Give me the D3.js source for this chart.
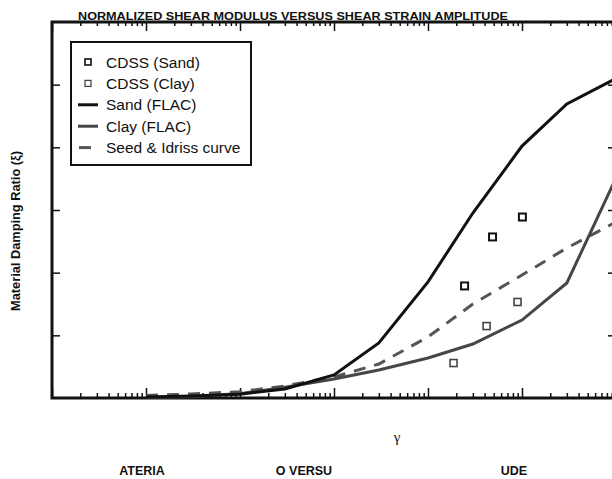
<html lang="en">
<head>
<meta charset="UTF-8">
<title>Material damping ratio versus shear strain</title>
<script src="https://d3js.org/d3.v7.min.js"></script>
<style>
  body { margin: 0; background: #fff; }
  svg { display: block; font-family: "Liberation Sans", Arial, sans-serif; }
  .legend text { font-size: 15.5px; fill: #111; }
</style>
</head>
<body>
<svg width="612" height="479"></svg>
<script>
// shear strain amplitude (%) at which the curves are given
const strain = [1e-4, 3e-4, 1e-3, 3e-3, 1e-2, 3e-2, 0.1, 0.3, 1, 3, 10];
// damping ratio (%)
const sandFlac   = [0.08, 0.15, 0.3, 0.72, 1.84, 4.39, 9.26, 14.76, 20.1, 23.46, 25.5];
const clayFlac   = [0.05, 0.1, 0.35, 0.85, 1.52, 2.23, 3.19, 4.31, 6.22, 9.18, 17.55];
const seedIdriss = [0.2, 0.32, 0.5, 0.96, 1.68, 2.71, 4.87, 7.5, 9.81, 11.97, 14.04];

// CDSS test points
const cdssSandStrain = [0.245, 0.486, 1.01];
const cdssSandDamp   = [8.94, 12.85, 14.44];
const cdssClayStrain = [0.187, 0.42, 0.896];
const cdssClayDamp   = [2.79, 5.74, 7.66];

const legendLabels = ["CDSS (Sand)", "CDSS (Clay)", "Sand (FLAC)", "Clay (FLAC)", "Seed & Idriss curve"];
const yTicks = [5, 10, 15, 20, 25];

const svg = d3.select("svg");

const pL = 52, pR = 616, pT = 22, pB = 398;

const x = d3.scaleLog().domain([1e-5, 10]).range([pL, pR]);
const y = d3.scaleLinear().domain([0, 30]).range([pB, pT]);

const allTicks = x.ticks();
const majors = allTicks.filter(v => Math.abs(Math.log10(v) - Math.round(Math.log10(v))) < 1e-9);
const minors = allTicks.filter(v => !majors.includes(v));

function tickGroup(axis, transform) {
    const g = svg.append("g").attr("transform", transform).call(axis);
    g.select(".domain").remove();
    g.selectAll("line").attr("stroke", "#111").attr("stroke-width", 1.5);
    g.selectAll("text").remove();
    return g;
}

// bottom axis, ticks pointing up
tickGroup(d3.axisTop(x).tickValues(majors).tickSize(10).tickFormat(""), `translate(0,${pB})`);
tickGroup(d3.axisTop(x).tickValues(minors).tickSize(5).tickFormat(""), `translate(0,${pB})`);
// top axis, ticks pointing down
tickGroup(d3.axisBottom(x).tickValues(majors).tickSize(9).tickFormat(""), `translate(0,${pT})`);
tickGroup(d3.axisBottom(x).tickValues(minors).tickSize(4).tickFormat(""), `translate(0,${pT})`);
// left and right axes
tickGroup(d3.axisRight(y).tickValues(yTicks).tickSize(8).tickFormat(""), `translate(${pL},0)`);
tickGroup(d3.axisLeft(y).tickValues(yTicks).tickSize(8).tickFormat(""), `translate(${pR},0)`);

// frame
svg.append("rect")
    .attr("x", pL).attr("y", pT)
    .attr("width", pR - pL).attr("height", pB - pT)
    .attr("fill", "none").attr("stroke", "#111").attr("stroke-width", 3);

const line = vals => d3.line()
    .x((d, i) => x(strain[i]))
    .y(d => y(d))(vals);

svg.append("path").attr("d", line(seedIdriss))
    .attr("fill", "none").attr("stroke", "#555").attr("stroke-width", 3)
    .attr("stroke-dasharray", "12,9");

svg.append("path").attr("d", line(clayFlac))
    .attr("fill", "none").attr("stroke", "#464646").attr("stroke-width", 3);

svg.append("path").attr("d", line(sandFlac))
    .attr("fill", "none").attr("stroke", "#111").attr("stroke-width", 3);

function squares(xs, ys, color, sw) {
    svg.append("g").selectAll("rect")
        .data(xs)
        .join("rect")
        .attr("x", (d, i) => x(d) - 3.5)
        .attr("y", (d, i) => y(ys[i]) - 3.5)
        .attr("width", 7).attr("height", 7)
        .attr("fill", "#fff").attr("stroke", color).attr("stroke-width", sw);
}
squares(cdssSandStrain, cdssSandDamp, "#111", 2);
squares(cdssClayStrain, cdssClayDamp, "#444", 1.6);

// legend
const lg = svg.append("g").attr("class", "legend");
lg.append("rect")
    .attr("x", 71).attr("y", 42).attr("width", 180).attr("height", 123)
    .attr("fill", "#fff").attr("stroke", "#111").attr("stroke-width", 2);

const rowY = i => 62 + i * 21.4;
lg.selectAll("text")
    .data(legendLabels)
    .join("text")
    .attr("x", 106)
    .attr("y", (d, i) => rowY(i) + 5.5)
    .text(d => d);

lg.append("rect").attr("x", 85).attr("y", rowY(0) - 3).attr("width", 6).attr("height", 6)
    .attr("fill", "#fff").attr("stroke", "#111").attr("stroke-width", 1.6);
lg.append("rect").attr("x", 85).attr("y", rowY(1) - 3).attr("width", 6).attr("height", 6)
    .attr("fill", "#fff").attr("stroke", "#444").attr("stroke-width", 1.3);
lg.append("line").attr("x1", 78).attr("x2", 98).attr("y1", rowY(2)).attr("y2", rowY(2))
    .attr("stroke", "#111").attr("stroke-width", 3);
lg.append("line").attr("x1", 78).attr("x2", 98).attr("y1", rowY(3)).attr("y2", rowY(3))
    .attr("stroke", "#464646").attr("stroke-width", 3);
lg.append("line").attr("x1", 79).attr("x2", 91).attr("y1", rowY(4)).attr("y2", rowY(4))
    .attr("stroke", "#555").attr("stroke-width", 3);

// titles
svg.append("text")
    .attr("x", 78).attr("y", 20)
    .attr("textLength", 430).attr("lengthAdjust", "spacingAndGlyphs")
    .attr("font-size", "11.5px").attr("font-weight", "bold").attr("fill", "#111")
    .text("NORMALIZED SHEAR MODULUS VERSUS SHEAR STRAIN AMPLITUDE");

svg.append("text")
    .attr("transform", "translate(20,231) rotate(-90)")
    .attr("text-anchor", "middle")
    .attr("textLength", 160).attr("lengthAdjust", "spacingAndGlyphs")
    .attr("font-size", "12px").attr("font-weight", "bold").attr("fill", "#111")
    .text("Material Damping Ratio (ξ)");

svg.append("text")
    .attr("x", 397).attr("y", 442)
    .attr("text-anchor", "middle")
    .attr("font-family", "Liberation Serif, serif")
    .attr("font-size", "15px").attr("fill", "#111")
    .text("γ");

const fragments = [["ATERIA", 142], ["O VERSU", 304], ["UDE", 514]];
svg.selectAll("text.frag")
    .data(fragments)
    .join("text")
    .attr("class", "frag")
    .attr("x", d => d[1]).attr("y", 475)
    .attr("text-anchor", "middle")
    .attr("font-size", "12.5px").attr("font-weight", "bold").attr("fill", "#111")
    .text(d => d[0]);
</script>
</body>
</html>
